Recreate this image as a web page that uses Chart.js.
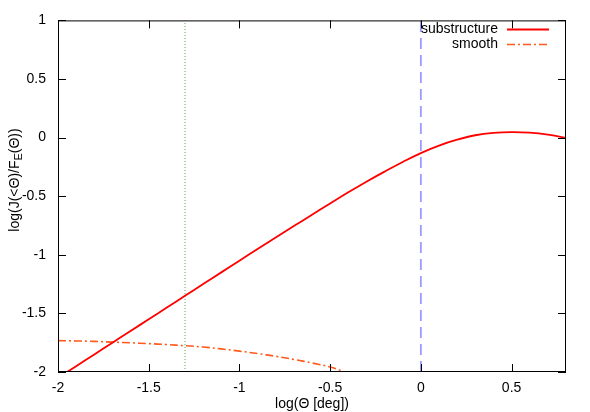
<!DOCTYPE html>
<html>
<head>
<meta charset="utf-8">
<script src="https://cdn.jsdelivr.net/npm/chart.js@4.4.1/dist/chart.umd.min.js"></script>
<style>
  html, body { margin: 0; padding: 0; background: #fff; }
</style>
</head>
<body>
<canvas id="chart" width="590" height="412"></canvas>
<script>
// log(theta [deg]) sample points and curves
const logTheta = [-2, -1.9, -1.8, -1.7, -1.6, -1.5, -1.4, -1.3, -1.2, -1.1, -1.0, -0.9, -0.8, -0.7,
  -0.6, -0.5, -0.4, -0.3, -0.2, -0.1, 0, 0.1, 0.2, 0.3, 0.4, 0.5, 0.6, 0.7, 0.8];
const substructure = [-2.05, -1.95, -1.85, -1.75, -1.65, -1.55, -1.45, -1.35, -1.25, -1.15, -1.05, -0.95,
  -0.852, -0.755, -0.658, -0.562, -0.467, -0.376, -0.29, -0.208, -0.132, -0.068, -0.018, 0.02, 0.04, 0.047,
  0.042, 0.025, -0.003];
const smoothTheta = [-2, -1.9, -1.8, -1.7, -1.6, -1.5, -1.4, -1.3, -1.2, -1.1, -1.0, -0.9, -0.8, -0.7,
  -0.6, -0.5, -0.4];
const smooth = [-1.732, -1.735, -1.739, -1.745, -1.751, -1.758, -1.766, -1.776, -1.787, -1.803, -1.822,
  -1.843, -1.866, -1.893, -1.923, -1.958, -2.01];
const markerLines = [-1.3, 0];
const xTickValues = [-2, -1.5, -1, -0.5, 0, 0.5];
const yTickValues = [-2, -1.5, -1, -0.5, 0, 0.5, 1];

const FONT = 'Liberation Sans, Arial, sans-serif';

function toPoints(xs, ys) {
  return xs.map((x, i) => ({ x: x, y: ys[i] }));
}

// gnuplot style frame: box, inward ticks on all sides, legend and axis titles
const framePlugin = {
  id: 'frame',
  afterDraw(chart) {
    const ctx = chart.ctx;
    const area = chart.chartArea;
    const xs = chart.scales.x;
    const ys = chart.scales.y;
    const tick = 8;

    ctx.save();
    ctx.strokeStyle = '#000';
    ctx.lineWidth = 1;
    ctx.setLineDash([]);
    ctx.strokeRect(area.left + 0.5, area.top + 0.5, area.right - area.left - 1, area.bottom - area.top - 1);

    ctx.beginPath();
    xTickValues.forEach(v => {
      const px = Math.round(xs.getPixelForValue(v)) + 0.5;
      ctx.moveTo(px, area.bottom);
      ctx.lineTo(px, area.bottom - tick);
      ctx.moveTo(px, area.top);
      ctx.lineTo(px, area.top + tick);
    });
    yTickValues.forEach(v => {
      const py = Math.round(ys.getPixelForValue(v)) + 0.5;
      ctx.moveTo(area.left, py);
      ctx.lineTo(area.left + tick, py);
      ctx.moveTo(area.right, py);
      ctx.lineTo(area.right - tick, py);
    });
    ctx.stroke();

    // legend (text right aligned, sample to the right)
    ctx.font = '14px ' + FONT;
    ctx.fillStyle = '#000';
    ctx.textAlign = 'right';
    ctx.textBaseline = 'middle';
    const entries = chart.data.datasets.filter(d => d.legend);
    entries.forEach((d, i) => {
      const y = 29 + i * 15;
      ctx.fillText(d.label, 498, y);
      ctx.strokeStyle = d.borderColor;
      ctx.lineWidth = d.borderWidth;
      ctx.setLineDash(d.borderDash || []);
      ctx.beginPath();
      ctx.moveTo(507, y + 0.5);
      ctx.lineTo(549, y + 0.5);
      ctx.stroke();
    });
    ctx.setLineDash([]);

    // x title
    ctx.fillStyle = '#000';
    ctx.textAlign = 'center';
    ctx.fillText('log(\u0398 [deg])', (area.left + area.right) / 2, 404);

    // y title with subscript E
    ctx.translate(15, 180);
    ctx.rotate(-Math.PI / 2);
    const parts = [
      { t: 'log(J(<\u0398)/F', sub: false },
      { t: 'E', sub: true },
      { t: '(\u0398))', sub: false }
    ];
    const big = '14px ' + FONT;
    const small = '11px ' + FONT;
    let total = 0;
    parts.forEach(p => {
      ctx.font = p.sub ? small : big;
      total += ctx.measureText(p.t).width;
    });
    let x = -total / 2;
    ctx.textAlign = 'left';
    parts.forEach(p => {
      ctx.font = p.sub ? small : big;
      ctx.fillText(p.t, x, p.sub ? 4 : 0);
      x += ctx.measureText(p.t).width;
    });
    ctx.restore();
  }
};

new Chart(document.getElementById('chart'), {
  type: 'scatter',
  data: {
    datasets: [
      {
        label: 'substructure',
        legend: true,
        data: toPoints(logTheta, substructure),
        showLine: true,
        borderColor: '#ff0000',
        borderWidth: 1.8,
        pointRadius: 0,
        tension: 0.4
      },
      {
        label: 'smooth',
        legend: true,
        data: toPoints(smoothTheta, smooth),
        showLine: true,
        borderColor: '#ff5a1a',
        borderWidth: 1.6,
        borderDash: [8, 3, 2, 3],
        pointRadius: 0,
        tension: 0.4
      },
      {
        label: 'theta min',
        data: [{ x: markerLines[0], y: -2 }, { x: markerLines[0], y: 1 }],
        showLine: true,
        borderColor: '#55aa55',
        borderWidth: 1,
        borderDash: [1, 2],
        pointRadius: 0
      },
      {
        label: 'theta 1 deg',
        data: [{ x: markerLines[1], y: -2 }, { x: markerLines[1], y: 1 }],
        showLine: true,
        borderColor: '#9a9aff',
        borderWidth: 1.8,
        borderDash: [11, 6],
        pointRadius: 0
      }
    ]
  },
  options: {
    responsive: false,
    animation: false,
    layout: { padding: { top: 14, right: 24, left: 0, bottom: 0 } },
    plugins: {
      legend: { display: false },
      tooltip: { enabled: false }
    },
    scales: {
      x: {
        type: 'linear',
        min: -2,
        max: 0.8,
        afterBuildTicks: scale => { scale.ticks = xTickValues.map(v => ({ value: v })); },
        afterFit: scale => { scale.height = 40; },
        grid: { display: false, drawTicks: false },
        border: { display: false },
        ticks: {
          color: '#000', font: { family: FONT, size: 14 }, padding: 8, maxRotation: 0,
          callback: v => String(v)
        }
      },
      y: {
        type: 'linear',
        min: -2,
        max: 1,
        afterBuildTicks: scale => { scale.ticks = yTickValues.map(v => ({ value: v })); },
        afterFit: scale => { scale.width = 58; },
        grid: { display: false, drawTicks: false },
        border: { display: false },
        ticks: {
          color: '#000', font: { family: FONT, size: 14 }, padding: 12,
          callback: v => String(v)
        }
      }
    }
  },
  plugins: [framePlugin]
});
</script>
</body>
</html>
